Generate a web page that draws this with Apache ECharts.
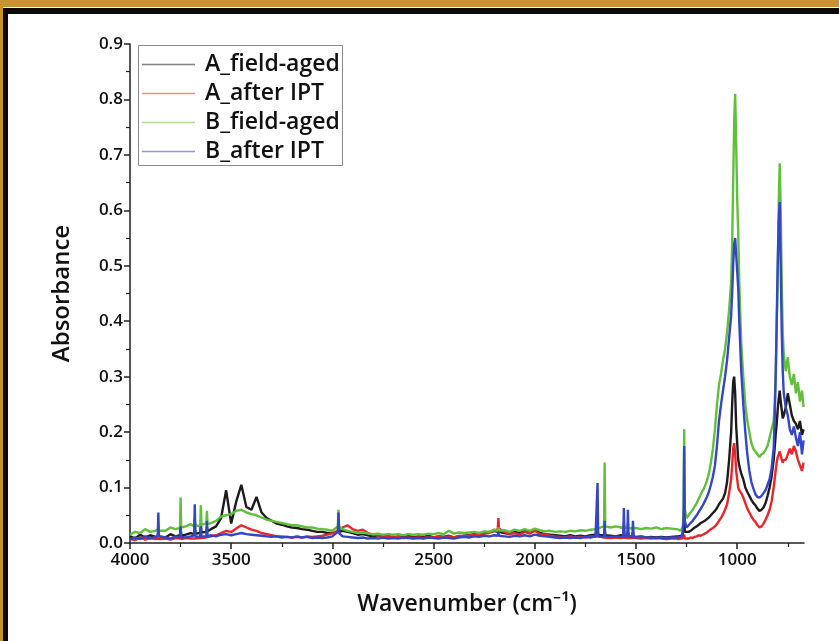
<!DOCTYPE html>
<html><head><meta charset="utf-8">
<script src="https://cdn.jsdelivr.net/npm/echarts@6/dist/echarts.min.js"></script>
<style>html,body{margin:0;padding:0;background:#fff}#c{width:839px;height:641px}</style>
</head><body><div id="c"></div>
<script>
const seriesNames = ['A_field-aged', 'A_after IPT', 'B_field-aged', 'B_after IPT'];
const xTickLabels = [4000, 3500, 3000, 2500, 2000, 1500, 1000];
const xMinorTicks = [3750, 3250, 2750, 2250, 1750, 1250, 750];
const wavenumbers = [
 4000,3975,3950,3925,3900,3875,3863,3860,3857,3850,
 3825,3800,3775,3753,3750,3747,3725,3700,3683,3680,
 3677,3653,3650,3647,3623,3620,3617,3600,3575,3550,
 3525,3500,3475,3450,3425,3400,3375,3350,3325,3300,
 3275,3250,3225,3200,3175,3150,3125,3100,3075,3050,
 3025,3000,2973,2970,2967,2950,2925,2900,2875,2850,
 2825,2800,2775,2750,2725,2700,2675,2650,2625,2600,
 2575,2550,2525,2500,2475,2450,2425,2400,2375,2350,
 2325,2300,2275,2250,2225,2200,2183,2180,2177,2150,
 2125,2100,2075,2050,2025,2000,1975,1950,1925,1900,
 1875,1850,1825,1800,1775,1750,1725,1700,1693,1690,
 1687,1675,1658,1655,1652,1625,1600,1575,1563,1560,
 1557,1543,1540,1537,1518,1515,1512,1500,1475,1450,
 1425,1400,1375,1350,1325,1300,1290,1280,1270,1265,
 1262,1259,1250,1240,1230,1220,1210,1200,1190,1180,
 1170,1160,1150,1140,1130,1120,1110,1100,1090,1080,
 1070,1060,1050,1040,1030,1025,1020,1015,1010,1005,
 1000,995,990,980,970,960,950,940,930,920,
 910,900,890,880,870,860,850,840,830,820,
 815,810,805,800,795,790,785,780,775,770,
 760,750,740,730,720,710,700,690,680,672
];
const A_fieldAged = [
 0.012,0.008,0.015,0.010,0.014,0.011,0.012,0.020,0.012,0.013,
 0.010,0.016,0.012,0.014,0.030,0.013,0.015,0.018,0.016,0.030,
 0.017,0.018,0.035,0.019,0.020,0.030,0.021,0.025,0.030,0.045,
 0.095,0.035,0.075,0.105,0.065,0.060,0.083,0.055,0.045,0.040,
 0.035,0.033,0.030,0.028,0.027,0.025,0.024,0.022,0.020,0.020,
 0.018,0.018,0.020,0.030,0.020,0.022,0.020,0.018,0.015,0.016,
 0.014,0.012,0.014,0.011,0.013,0.010,0.012,0.011,0.013,0.010,
 0.012,0.011,0.013,0.010,0.012,0.011,0.013,0.010,0.012,0.013,
 0.014,0.016,0.015,0.018,0.020,0.022,0.020,0.030,0.020,0.018,
 0.016,0.020,0.018,0.022,0.020,0.025,0.018,0.016,0.015,0.014,
 0.013,0.012,0.014,0.012,0.013,0.012,0.014,0.015,0.014,0.030,
 0.015,0.014,0.014,0.025,0.014,0.013,0.012,0.014,0.013,0.025,
 0.013,0.012,0.022,0.012,0.012,0.020,0.012,0.011,0.012,0.010,
 0.011,0.010,0.011,0.010,0.011,0.012,0.012,0.013,0.014,0.015,
 0.060,0.020,0.018,0.020,0.022,0.025,0.028,0.030,0.033,0.036,
 0.038,0.040,0.043,0.046,0.050,0.054,0.058,0.063,0.070,0.075,
 0.080,0.090,0.110,0.150,0.200,0.250,0.290,0.300,0.270,0.210,
 0.180,0.150,0.140,0.125,0.115,0.100,0.092,0.085,0.078,0.072,
 0.068,0.062,0.058,0.060,0.064,0.072,0.085,0.100,0.120,0.150,
 0.170,0.195,0.215,0.240,0.260,0.275,0.255,0.240,0.225,0.230,
 0.245,0.270,0.250,0.230,0.220,0.215,0.205,0.220,0.195,0.205
];
const A_afterIPT = [
 0.008,0.005,0.010,0.006,0.009,0.007,0.008,0.010,0.008,0.007,
 0.008,0.006,0.009,0.008,0.012,0.007,0.009,0.008,0.008,0.010,
 0.008,0.009,0.012,0.008,0.010,0.012,0.010,0.012,0.014,0.018,
 0.022,0.020,0.026,0.032,0.028,0.024,0.022,0.018,0.016,0.014,
 0.012,0.012,0.011,0.010,0.011,0.010,0.012,0.011,0.012,0.013,
 0.015,0.018,0.022,0.030,0.025,0.028,0.032,0.025,0.022,0.024,
 0.018,0.015,0.014,0.012,0.011,0.010,0.011,0.009,0.010,0.009,
 0.010,0.009,0.011,0.010,0.012,0.011,0.012,0.010,0.013,0.012,
 0.013,0.015,0.014,0.017,0.018,0.022,0.025,0.045,0.026,0.020,
 0.016,0.018,0.015,0.020,0.017,0.022,0.016,0.015,0.013,0.012,
 0.011,0.010,0.012,0.010,0.011,0.010,0.012,0.011,0.010,0.012,
 0.010,0.011,0.010,0.012,0.010,0.009,0.010,0.009,0.010,0.012,
 0.009,0.009,0.011,0.009,0.009,0.010,0.008,0.009,0.008,0.009,
 0.008,0.009,0.008,0.007,0.008,0.008,0.007,0.008,0.008,0.009,
 0.015,0.008,0.007,0.008,0.010,0.009,0.011,0.012,0.014,0.013,
 0.015,0.017,0.019,0.022,0.025,0.027,0.030,0.034,0.040,0.045,
 0.052,0.060,0.070,0.090,0.115,0.140,0.170,0.180,0.160,0.130,
 0.115,0.100,0.095,0.090,0.082,0.072,0.062,0.055,0.048,0.042,
 0.038,0.032,0.028,0.030,0.035,0.042,0.050,0.060,0.075,0.100,
 0.115,0.130,0.145,0.155,0.160,0.165,0.158,0.150,0.145,0.150,
 0.150,0.160,0.170,0.160,0.175,0.165,0.150,0.140,0.130,0.145
];
const B_fieldAged = [
 0.015,0.020,0.018,0.025,0.020,0.022,0.024,0.030,0.022,0.025,
 0.022,0.028,0.025,0.027,0.082,0.028,0.030,0.034,0.030,0.045,
 0.032,0.030,0.068,0.033,0.035,0.058,0.034,0.036,0.040,0.048,
 0.050,0.052,0.058,0.060,0.055,0.052,0.050,0.046,0.042,0.040,
 0.038,0.036,0.034,0.032,0.032,0.030,0.028,0.028,0.026,0.025,
 0.024,0.022,0.030,0.060,0.030,0.025,0.022,0.020,0.018,0.019,
 0.017,0.016,0.017,0.015,0.016,0.015,0.016,0.014,0.016,0.015,
 0.016,0.015,0.017,0.016,0.018,0.016,0.022,0.017,0.019,0.018,
 0.019,0.020,0.018,0.021,0.020,0.024,0.022,0.028,0.022,0.023,
 0.020,0.024,0.022,0.025,0.022,0.026,0.023,0.021,0.022,0.020,
 0.021,0.020,0.022,0.021,0.023,0.022,0.024,0.025,0.024,0.035,
 0.026,0.028,0.030,0.145,0.030,0.028,0.030,0.028,0.027,0.035,
 0.027,0.028,0.035,0.027,0.026,0.030,0.026,0.027,0.025,0.027,
 0.026,0.028,0.025,0.027,0.026,0.025,0.024,0.022,0.028,0.045,
 0.205,0.060,0.045,0.050,0.055,0.060,0.066,0.072,0.080,0.088,
 0.095,0.102,0.112,0.125,0.145,0.170,0.205,0.250,0.285,0.305,
 0.330,0.350,0.380,0.420,0.470,0.540,0.650,0.760,0.810,0.720,
 0.620,0.560,0.470,0.360,0.300,0.250,0.220,0.200,0.180,0.170,
 0.165,0.160,0.155,0.160,0.162,0.168,0.175,0.190,0.205,0.220,
 0.250,0.300,0.380,0.480,0.610,0.685,0.600,0.470,0.380,0.340,
 0.310,0.335,0.300,0.285,0.305,0.270,0.290,0.255,0.275,0.245
];
const B_afterIPT = [
 0.006,0.010,0.007,0.012,0.008,0.011,0.012,0.055,0.012,0.009,
 0.010,0.008,0.012,0.010,0.030,0.011,0.010,0.012,0.014,0.070,
 0.012,0.011,0.030,0.012,0.012,0.040,0.012,0.014,0.012,0.015,
 0.016,0.014,0.016,0.018,0.016,0.015,0.014,0.013,0.012,0.011,
 0.012,0.010,0.011,0.010,0.012,0.010,0.011,0.009,0.010,0.009,
 0.010,0.012,0.020,0.055,0.018,0.012,0.011,0.010,0.009,0.010,
 0.008,0.009,0.008,0.010,0.008,0.009,0.008,0.010,0.009,0.008,
 0.009,0.008,0.010,0.009,0.008,0.010,0.009,0.008,0.010,0.011,
 0.010,0.012,0.011,0.013,0.012,0.014,0.013,0.020,0.013,0.012,
 0.011,0.013,0.012,0.014,0.012,0.015,0.013,0.012,0.011,0.010,
 0.009,0.010,0.009,0.010,0.009,0.011,0.010,0.012,0.012,0.108,
 0.012,0.011,0.012,0.040,0.012,0.011,0.012,0.011,0.012,0.063,
 0.012,0.012,0.060,0.012,0.011,0.040,0.011,0.010,0.011,0.010,
 0.010,0.009,0.010,0.009,0.010,0.010,0.010,0.011,0.014,0.040,
 0.175,0.040,0.028,0.032,0.036,0.040,0.045,0.050,0.056,0.062,
 0.068,0.075,0.083,0.092,0.105,0.120,0.140,0.175,0.220,0.250,
 0.275,0.300,0.330,0.370,0.410,0.450,0.500,0.540,0.550,0.520,
 0.490,0.460,0.400,0.310,0.250,0.200,0.160,0.130,0.110,0.098,
 0.088,0.083,0.082,0.085,0.090,0.095,0.105,0.115,0.135,0.170,
 0.220,0.300,0.400,0.500,0.580,0.615,0.500,0.380,0.310,0.270,
 0.245,0.230,0.205,0.195,0.210,0.190,0.175,0.200,0.160,0.185
];
const seriesValues = [A_fieldAged, A_afterIPT, B_fieldAged, B_afterIPT];
const seriesColors = ['#1c1c1c', '#e8262a', '#62bf3c', '#3446c4'];

seriesValues.forEach((arr, i) => {
  if (arr.length !== wavenumbers.length) throw new Error('length mismatch ' + i + ': ' + arr.length + ' vs ' + wavenumbers.length);
});

const FONT = "'Open Sans', 'Noto Sans', sans-serif";
const chart = echarts.init(document.getElementById('c'), null, {renderer: 'canvas'});
chart.setOption({
  backgroundColor: '#ffffff',
  animation: false,
  textStyle: {fontFamily: FONT},
  graphic: [
    {type: 'rect', shape: {x: 0, y: 0, width: 839, height: 7}, style: {fill: '#c8922c'}, silent: true},
    {type: 'rect', shape: {x: 0, y: 8, width: 839, height: 6}, style: {fill: '#0a0a0a'}, silent: true},
    {type: 'rect', shape: {x: 0, y: 0, width: 3, height: 641}, style: {fill: '#c8922c'}, silent: true},
    {type: 'rect', shape: {x: 3, y: 8, width: 5, height: 633}, style: {fill: '#0a0a0a'}, silent: true},
    {type: 'rect', z: 5, shape: {x: 138.5, y: 45.5, width: 204, height: 120}, style: {fill: '#fff', stroke: '#8a8a8a', lineWidth: 1}, silent: true}
  ],
  legend: {
    data: seriesNames,
    orient: 'vertical',
    left: 142, top: 50,
    padding: 0,
    itemGap: 0,
    itemWidth: 53, itemHeight: 1.5,
    icon: 'rect',
    z: 10,
    itemStyle: {opacity: 0.55},
    textStyle: {fontSize: 23, fontWeight: 600, color: '#111', fontFamily: FONT, lineHeight: 29, padding: [0, 0, 0, 5]},
  },
  grid: {left: 130, right: 35, top: 44, bottom: 98, containLabel: false},
  xAxis: [
    {
      type: 'value', inverse: true, min: 670, max: 4000,
      name: 'Wavenumber (cm⁻¹)', nameLocation: 'middle', nameGap: 50,
      nameTextStyle: {fontSize: 23, fontWeight: 600, color: '#111', fontFamily: FONT},
      axisLine: {lineStyle: {color: '#222', width: 1.5}},
      axisTick: {show: true, customValues: xTickLabels, length: 6, lineStyle: {color: '#222', width: 1.5}},
      axisLabel: {customValues: xTickLabels, fontSize: 17, fontWeight: 600, color: '#111', margin: 9, fontFamily: FONT, formatter: v => String(v)},
      splitLine: {show: false}
    },
    {
      type: 'value', inverse: true, min: 670, max: 4000, position: 'bottom',
      axisLine: {show: false},
      axisTick: {show: true, customValues: xMinorTicks, length: 4, lineStyle: {color: '#222', width: 1.2}},
      axisLabel: {show: false},
      splitLine: {show: false}
    }
  ],
  yAxis: {
    type: 'value', min: 0, max: 0.9, interval: 0.1,
    name: 'Absorbance', nameLocation: 'middle', nameGap: 56,
    nameTextStyle: {fontSize: 24, fontWeight: 600, color: '#111', fontFamily: FONT},
    axisLine: {show: true, lineStyle: {color: '#222', width: 1.5}},
    axisTick: {show: true, length: 6, lineStyle: {color: '#222', width: 1.5}},
    minorTick: {show: true, splitNumber: 2, length: 4, lineStyle: {color: '#222', width: 1.2}},
    axisLabel: {fontSize: 17, fontWeight: 600, color: '#111', margin: 7, fontFamily: FONT, formatter: v => v.toFixed(1)},
    splitLine: {show: false}
  },
  series: seriesNames.map((name, i) => ({
    name: name,
    type: 'line',
    xAxisIndex: 0,
    symbol: 'none',
    color: seriesColors[i],
    lineStyle: {width: 2.4, color: seriesColors[i]},
    data: wavenumbers.map((w, k) => [w, seriesValues[i][k]]),
    z: 2 + i
  }))
});
</script>
</body></html>
